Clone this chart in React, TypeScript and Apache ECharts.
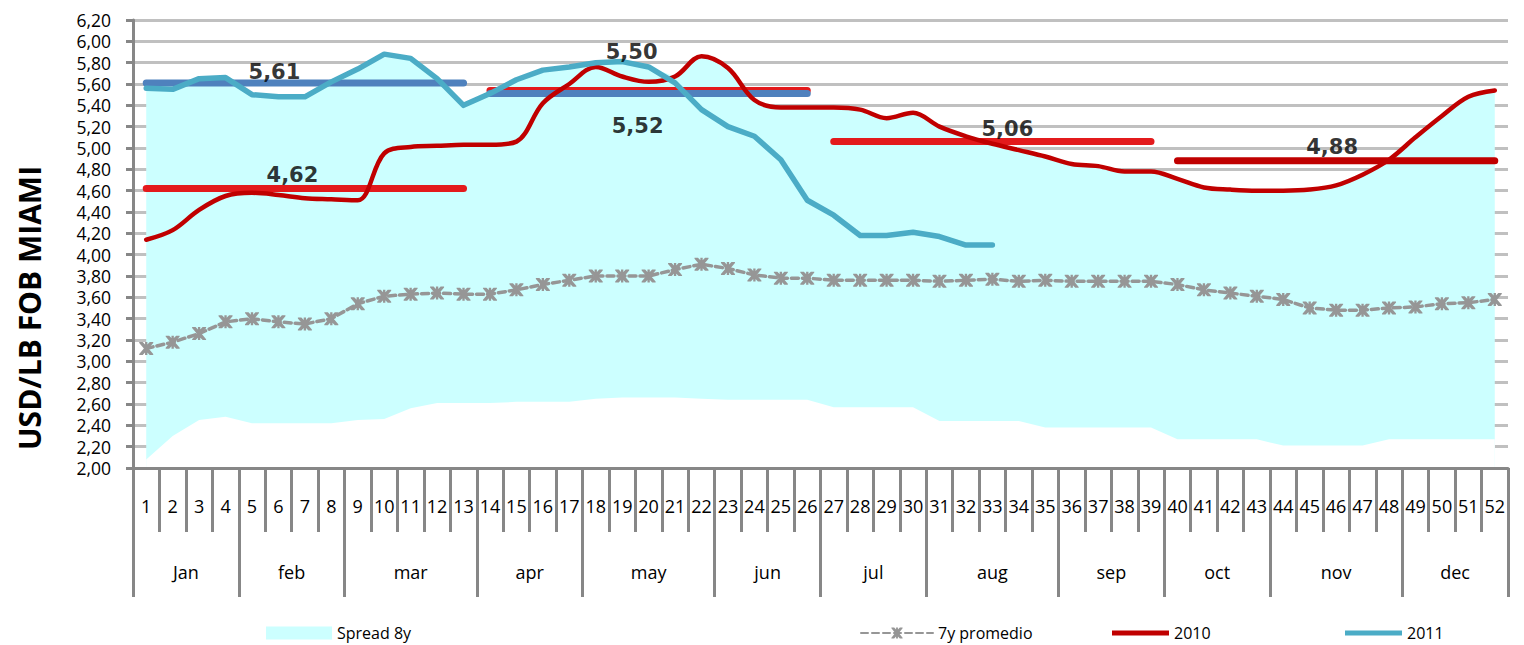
import React, { useEffect, useRef } from 'react';
import * as echarts from 'echarts';

// ---------- data ----------
const weekLabels: string[] = Array.from({ length: 52 }, (_, i) => String(i + 1));
const monthNames = ['Jan', 'feb', 'mar', 'apr', 'may', 'jun', 'jul', 'aug', 'sep', 'oct', 'nov', 'dec'];
const monthWeekCounts = [4, 4, 5, 4, 5, 4, 4, 5, 4, 4, 5, 4];

const spreadLow = [
  2.08, 2.30, 2.45, 2.48, 2.42, 2.42, 2.42, 2.42, 2.45, 2.46,
  2.56, 2.61, 2.61, 2.61, 2.62, 2.62, 2.62, 2.65, 2.66, 2.66,
  2.66, 2.65, 2.64, 2.64, 2.64, 2.64, 2.57, 2.57, 2.57, 2.57,
  2.44, 2.44, 2.44, 2.44, 2.38, 2.38, 2.38, 2.38, 2.38, 2.27,
  2.27, 2.27, 2.27, 2.21, 2.21, 2.21, 2.21, 2.27, 2.27, 2.27,
  2.27, 2.27,
];
const spreadHigh = [
  5.56, 5.55, 5.65, 5.66, 5.50, 5.48, 5.48, 5.62, 5.74, 5.88,
  5.84, 5.65, 5.40, 5.51, 5.64, 5.73, 5.76, 5.80, 5.81, 5.76,
  5.67, 5.86, 5.75, 5.45, 5.38, 5.38, 5.38, 5.36, 5.28, 5.33,
  5.20, 5.11, 5.04, 4.98, 4.92, 4.85, 4.83, 4.78, 4.78, 4.71,
  4.63, 4.61, 4.60, 4.60, 4.61, 4.65, 4.75, 4.89, 5.10, 5.30,
  5.48, 5.54,
];
const avg7y = [
  3.12, 3.18, 3.26, 3.37, 3.40, 3.37, 3.35, 3.40, 3.54, 3.61,
  3.63, 3.64, 3.63, 3.63, 3.67, 3.72, 3.76, 3.80, 3.80, 3.80,
  3.86, 3.91, 3.87, 3.81, 3.78, 3.78, 3.76, 3.76, 3.76, 3.76,
  3.75, 3.76, 3.77, 3.75, 3.76, 3.75, 3.75, 3.75, 3.75, 3.72,
  3.67, 3.64, 3.61, 3.58, 3.50, 3.48, 3.48, 3.50, 3.51, 3.54,
  3.55, 3.58,
];
const y2010 = [
  4.14, 4.23, 4.42, 4.55, 4.58, 4.56, 4.53, 4.52, 4.51, 4.95,
  5.01, 5.02, 5.03, 5.03, 5.06, 5.42, 5.60, 5.76, 5.67, 5.62,
  5.67, 5.86, 5.75, 5.45, 5.38, 5.38, 5.38, 5.36, 5.28, 5.33,
  5.20, 5.11, 5.04, 4.98, 4.92, 4.85, 4.83, 4.78, 4.78, 4.71,
  4.63, 4.61, 4.60, 4.60, 4.61, 4.65, 4.75, 4.89, 5.10, 5.30,
  5.48, 5.54,
];
const y2011 = [
  5.56, 5.55, 5.65, 5.66, 5.50, 5.48, 5.48, 5.62, 5.74, 5.88,
  5.84, 5.65, 5.40, 5.51, 5.64, 5.73, 5.76, 5.80, 5.81, 5.76,
  5.61, 5.36, 5.20, 5.11, 4.89, 4.51, 4.37, 4.18, 4.18, 4.21,
  4.17, 4.09, 4.09,
];

// period averages (horizontal segments)
const segmentStartWeeks = [1, 1, 14, 14, 27, 40];
const segmentEndWeeks = [13, 13, 26, 26, 39, 52];
const segmentValues = [5.61, 4.62, 5.54, 5.51, 5.06, 4.88];
const segmentLabels = ['5,61', '4,62', '5,50', '5,52', '5,06', '4,88'];
const segmentLabelWeeks = [6, 6, 20, 20, 33, 46];

// ---------- styles ----------
const segmentColors = ['#4f81bd', '#e31a1c', '#e31a1c', '#4f81bd', '#e31a1c', '#c00000'];
const segmentLabelOffsets = [[-4, -11], [14, -14], [-17, -38], [-11, 32], [15, -13], [-4, -14]];
const FONT = '"Open Sans", "Noto Sans", sans-serif';
const AXIS_GRAY = '#878787';
const X_SYMBOL =
  'path://M1,0 L4,0 L7,4 L10,0 L13,0 L13,1 L9,7 L13,13 L13,14 L10,14 L7,10 L4,14 L1,14 L1,13 L5,7 L1,1 Z M6,0 L8,0 L8,14 L6,14 Z';

export default function App() {
  const ref = useRef<HTMLDivElement>(null);

  useEffect(() => {
    if (!ref.current) return;
    const chart = echarts.init(ref.current, undefined, { renderer: 'svg' });

    // month axis built from half-week points
    const bounds: number[] = [0];
    monthWeekCounts.forEach((c) => bounds.push(bounds[bounds.length - 1] + c));
    const halfCount = bounds[bounds.length - 1] * 2 + 1;
    const monthAxisData: string[] = Array.from({ length: halfCount }, () => '');
    const tickIdx = new Set<number>(bounds.map((b) => b * 2));
    const labelIdx = new Set<number>();
    monthNames.forEach((m, i) => {
      const idx = bounds[i] + bounds[i + 1];
      monthAxisData[idx] = m;
      labelIdx.add(idx);
    });

    const segmentSeries = segmentValues.map((v, i) => ({
      name: 'seg' + i,
      type: 'line',
      xAxisIndex: 0,
      data: weekLabels.map((_, w) =>
        w + 1 >= segmentStartWeeks[i] && w + 1 <= segmentEndWeeks[i] ? v : '-'
      ),
      symbol: 'none',
      lineStyle: { color: segmentColors[i], width: 7, cap: 'round' },
      itemStyle: { color: segmentColors[i] },
      z: 3,
      silent: true,
    }));

    const labelSeries = {
      name: 'segLabels',
      type: 'scatter',
      xAxisIndex: 0,
      symbolSize: 1,
      itemStyle: { color: 'rgba(0,0,0,0)' },
      z: 10,
      silent: true,
      data: segmentValues.map((v, i) => ({
        value: [segmentLabelWeeks[i] - 1, v],
        label: {
          show: true,
          position: 'inside',
          formatter: segmentLabels[i],
          offset: segmentLabelOffsets[i],
          fontFamily: '"DejaVu Sans", sans-serif',
          fontWeight: 'bold',
          fontSize: 21,
          color: '#000',
        },
      })),
    };

    const legendBase = {
      top: 625,
      padding: 0,
      itemHeight: 14,
      selectedMode: false,
      textStyle: { fontFamily: FONT, fontSize: 16, color: '#000' },
    };

    chart.setOption({
      animation: false,
      backgroundColor: '#fff',
      grid: { left: 133, right: 16, top: 20, bottom: 177, containLabel: false },
      legend: [
        { ...legendBase, left: 266, data: [{ name: 'Spread 8y', icon: 'rect' }], itemWidth: 66, itemHeight: 13 },
        { ...legendBase, left: 860, data: ['7y promedio'], itemWidth: 72 },
        { ...legendBase, left: 1112, data: [{ name: '2010', icon: 'rect' }], itemWidth: 57, itemHeight: 5 },
        { ...legendBase, left: 1345, data: [{ name: '2011', icon: 'rect' }], itemWidth: 57, itemHeight: 5 },
      ],
      xAxis: [
        {
          type: 'category',
          data: weekLabels,
          boundaryGap: true,
          position: 'bottom',
          axisLine: { show: true, lineStyle: { color: AXIS_GRAY, width: 3 } },
          axisTick: { show: true, interval: 0, length: 64, lineStyle: { color: AXIS_GRAY, width: 3 } },
          axisLabel: { interval: 0, margin: 29, fontFamily: FONT, fontSize: 18, color: '#000' },
          splitLine: { show: false },
          z: 5,
        },
        {
          type: 'category',
          data: monthAxisData,
          boundaryGap: false,
          position: 'bottom',
          axisLine: { show: false },
          axisTick: {
            show: true,
            interval: (idx: number) => tickIdx.has(idx),
            length: 129,
            lineStyle: { color: AXIS_GRAY, width: 3 },
          },
          axisLabel: {
            interval: (idx: number) => labelIdx.has(idx),
            margin: 95,
            fontFamily: FONT,
            fontSize: 18,
            color: '#000',
          },
          splitLine: { show: false },
        },
      ],
      yAxis: [
        {
          // gridlines only, beneath the series
          type: 'value',
          position: 'left',
          min: 2,
          max: 6.2,
          interval: 0.2,
          axisLine: { show: false },
          axisTick: { show: false },
          axisLabel: { show: false },
          splitLine: { show: true, lineStyle: { color: '#c0c0c0', width: 3 } },
          z: 0,
        },
        {
          // axis line, ticks and labels, above the series
          type: 'value',
          position: 'left',
          offset: 0,
          min: 2,
          max: 6.2,
          interval: 0.2,
          axisLine: { show: true, lineStyle: { color: AXIS_GRAY, width: 3 } },
          axisTick: { show: true, length: 7, lineStyle: { color: AXIS_GRAY, width: 3 } },
          axisLabel: {
            margin: 22,
            fontFamily: FONT,
            fontSize: 17.5,
            lineHeight: 17,
            color: '#000',
            formatter: (v: number) => v.toFixed(2).replace('.', ','),
          },
          splitLine: { show: false },
          z: 5,
        },
      ],
      graphic: [
        {
          type: 'text',
          x: 29,
          y: 308,
          rotation: Math.PI / 2,
          style: {
            text: 'USD/LB FOB MIAMI',
            fontFamily: FONT,
            fontWeight: 'bold',
            fontSize: 30,
            fill: '#000',
            align: 'center',
            verticalAlign: 'middle',
          },
        },
      ],
      series: [
        {
          name: 'Spread 8y',
          type: 'line',
          data: spreadHigh,
          color: '#ccffff',
          symbol: 'none',
          lineStyle: { width: 0, color: '#ccffff' },
          areaStyle: { color: '#ccffff', opacity: 1, origin: 'start' },
          z: 1,
          silent: true,
        },
        {
          name: 'spreadBase',
          type: 'line',
          data: spreadLow,
          color: '#ffffff',
          symbol: 'none',
          lineStyle: { width: 0, color: '#ffffff' },
          areaStyle: { color: '#ffffff', opacity: 1, origin: 'start' },
          z: 1,
          silent: true,
        },
        {
          name: '7y promedio',
          type: 'line',
          data: avg7y,
          color: '#969696',
          symbol: X_SYMBOL,
          symbolSize: [14, 13],
          showSymbol: true,
          itemStyle: { color: '#969696' },
          lineStyle: { color: '#969696', width: 3.5, type: [7, 4], cap: 'round' },
          z: 2,
        },
        ...segmentSeries,
        {
          name: '2010',
          type: 'line',
          data: y2010,
          color: '#c00000',
          smooth: 0.35,
          symbol: 'none',
          lineStyle: { color: '#c00000', width: 4.5, cap: 'round' },
          z: 4,
        },
        {
          name: '2011',
          type: 'line',
          data: y2011,
          color: '#4bacc6',
          symbol: 'none',
          lineStyle: { color: '#4bacc6', width: 5.5, cap: 'round', join: 'round' },
          z: 4,
        },
        labelSeries,
      ],
    });

    return () => chart.dispose();
  }, []);

  return (
    <div
      ref={ref}
      style={{ position: 'absolute', left: 0, top: 0, width: 1524, height: 645 }}
    />
  );
}
